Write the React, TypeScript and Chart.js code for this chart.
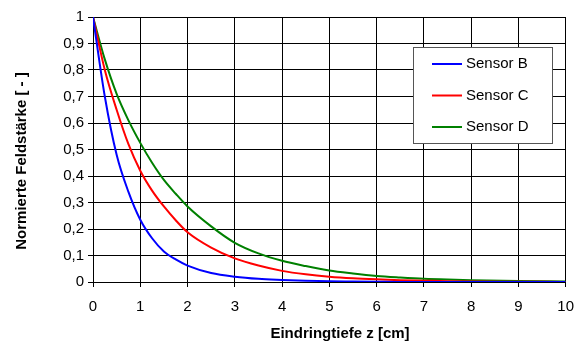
import React, { useEffect, useRef } from "react";
import { Chart, registerables } from "chart.js";

Chart.register(...registerables);

const depthCm = [0, 0.25, 0.5, 0.75, 1, 1.25, 1.5, 1.75, 2, 2.5, 3, 3.5, 4, 4.5, 5, 5.5, 6, 6.5, 7, 7.5, 8, 9, 10];
const sensorB = [1, 0.7, 0.48, 0.34, 0.235, 0.165, 0.115, 0.085, 0.062, 0.034, 0.02, 0.012, 0.008, 0.005, 0.003, 0.002, 0.001, 0, 0, 0, 0, 0, 0];
const sensorC = [1, 0.8, 0.65, 0.52, 0.42, 0.345, 0.285, 0.233, 0.188, 0.13, 0.089, 0.062, 0.042, 0.029, 0.02, 0.014, 0.01, 0.007, 0.005, 0.003, 0.002, 0.001, 0];
const sensorD = [1, 0.84, 0.71, 0.61, 0.525, 0.45, 0.385, 0.333, 0.285, 0.21, 0.148, 0.108, 0.08, 0.06, 0.043, 0.032, 0.023, 0.017, 0.012, 0.009, 0.007, 0.004, 0.002];
const seriesNames = ["Sensor B", "Sensor C", "Sensor D"];
const seriesColors = ["#0000ff", "#ff0000", "#008000"];
const xTitle = "Eindringtiefe z [cm]";
const yTitle = "Normierte Feldstärke [ - ]";

const FONT = "'Liberation Sans', Arial, sans-serif";

export default function App() {
  const ref = useRef<HTMLCanvasElement>(null);
  useEffect(() => {
    if (!ref.current) return;
    const values = [sensorB, sensorC, sensorD];
    const overlay = {
      id: "overlay",
      afterDraw(chart: any) {
        const ctx = chart.ctx;
        ctx.save();
        // titles
        ctx.fillStyle = "#000";
        ctx.font = `bold 15px ${FONT}`;
        ctx.textAlign = "center";
        ctx.textBaseline = "middle";
        ctx.fillText(xTitle, 340, 334);
        ctx.save();
        ctx.translate(22, 161);
        ctx.rotate(-Math.PI / 2);
        ctx.fillText(yTitle, 0, 0);
        ctx.restore();
        // legend
        const lx = 413.5, ly = 47.5, lw = 139, lh = 96;
        ctx.fillStyle = "#fff";
        ctx.fillRect(lx, ly, lw, lh);
        ctx.strokeStyle = "#555";
        ctx.lineWidth = 1;
        ctx.strokeRect(lx, ly, lw, lh);
        ctx.font = `15px ${FONT}`;
        ctx.textAlign = "left";
        chart.data.datasets.forEach((ds: any, i: number) => {
          const yy = 64 + i * 31.5;
          ctx.strokeStyle = ds.borderColor;
          ctx.lineWidth = 2;
          ctx.beginPath();
          ctx.moveTo(432, yy);
          ctx.lineTo(462, yy);
          ctx.stroke();
          ctx.fillStyle = "#000";
          ctx.fillText(ds.label, 466, yy);
        });
        ctx.restore();
      },
    };
    const chart = new Chart(ref.current, {
      type: "line",
      data: {
        datasets: values.map((arr, i) => ({
          label: seriesNames[i],
          data: arr.map((y, j) => ({ x: depthCm[j], y })),
          borderColor: seriesColors[i],
          backgroundColor: seriesColors[i],
          borderWidth: 2,
          pointRadius: 0,
          cubicInterpolationMode: "monotone" as const,
          fill: false,
        })),
      },
      options: {
        animation: false,
        responsive: false,
        maintainAspectRatio: false,
        layout: { padding: { left: 0, right: 15, top: 17, bottom: 0 } },
        plugins: { legend: { display: false }, tooltip: { enabled: false } },
        scales: {
          x: {
            type: "linear",
            min: 0,
            max: 10,
            afterFit: (s: any) => { s.height = 65; },
            ticks: { stepSize: 1, color: "#000", font: { family: FONT, size: 15 }, padding: 11, maxRotation: 0 },
            grid: { color: "#000", lineWidth: 1, tickLength: 5 },
            border: { color: "#000", width: 1 },
          },
          y: {
            min: 0,
            max: 1,
            afterFit: (s: any) => { s.width = 93; },
            ticks: {
              stepSize: 0.1,
              color: "#000",
              font: { family: FONT, size: 15 },
              padding: 4,
              callback: (v: any) => String(Number(Number(v).toFixed(1))).replace(".", ","),
            },
            grid: { color: "#000", lineWidth: 1, tickLength: 5 },
            border: { color: "#000", width: 1 },
          },
        },
      },
      plugins: [overlay],
    });
    return () => chart.destroy();
  }, []);
  return (
    <div style={{ position: "absolute", left: 0, top: 0, width: 585, height: 347, background: "#fff" }}>
      <canvas ref={ref} width={585} height={347} />
    </div>
  );
}
